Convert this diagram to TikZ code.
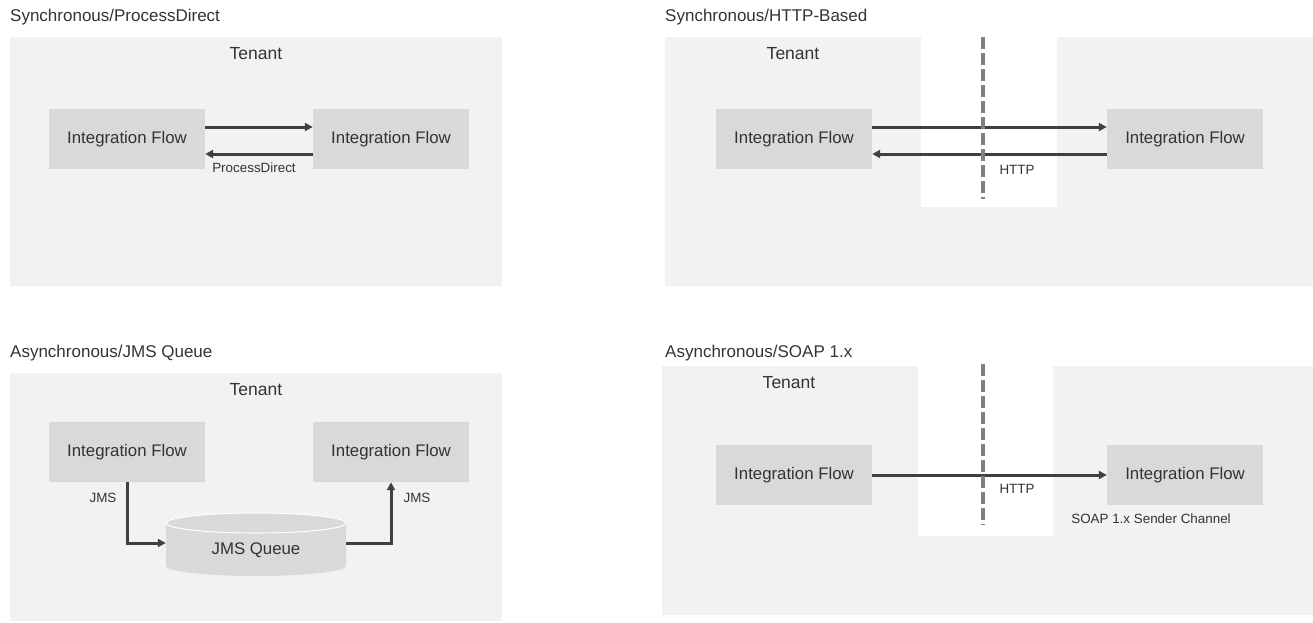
\documentclass[tikz,border=0pt]{standalone}
\usepackage{fontspec}
\setmainfont{Liberation Sans}
\usetikzlibrary{arrows.meta}
\begin{document}
\begin{tikzpicture}[x=1pt, y=-1pt,
    ifbox/.style={fill=if-gray, minimum width=156pt, minimum height=60pt, inner sep=0pt,
      text=txt-gray, font=\fontsize{16.8}{20}\selectfont},
    flow/.style={line width=3pt, color=arr-gray, -{Triangle[length=8pt,width=8pt]}},
    lbl/.style={text=txt-gray, inner sep=0pt, font=\fontsize{13.4}{16}\selectfont},
    title/.style={anchor=base west, text=txt-gray, inner sep=0pt, font=\fontsize{17}{20}\selectfont},
    tenant/.style={anchor=base, text=txt-gray, inner sep=0pt, font=\fontsize{17.5}{20}\selectfont},
    cut/.style={line width=3.5pt, color=cut-gray, dash pattern=on 12pt off 4pt}]
    \definecolor{bg-gray}{HTML}{F2F2F2}
    \definecolor{if-gray}{HTML}{D9D9D9}
    \definecolor{arr-gray}{HTML}{404040}
    \definecolor{txt-gray}{HTML}{333333}
    \definecolor{cut-gray}{HTML}{808080}
    \useasboundingbox (0,0) rectangle (1313,622);
    % Synchronous/ProcessDirect
    \begin{scope}
      \fill[bg-gray] (10,37) rectangle (502,286);
      \node[title] (tPD) at (10,21) {Synchronous/ProcessDirect};
      \node[tenant] (tenPD) at (256,59) {Tenant};
      \node[ifbox] (pdA) at (127,139) {Integration Flow};
      \node[ifbox] (pdB) at (391,139) {Integration Flow};
      \draw[flow] ([yshift=12pt]pdA.east) -- ([yshift=12pt]pdB.west);
      \draw[flow] ([yshift=-15pt]pdB.west) -- ([yshift=-15pt]pdA.east);
      \node[lbl] (pdLbl) at (254,168) {ProcessDirect};
    \end{scope}
    % Synchronous/HTTP-Based
    \begin{scope}
      \fill[bg-gray] (665,37) rectangle (1313,286);
      \fill[white] (921,37) rectangle (1057,207);
      \node[title] (tHT) at (665,21) {Synchronous/HTTP-Based};
      \node[tenant] (tenHT) at (793,59) {Tenant};
      \node[ifbox] (htA) at (794,139) {Integration Flow};
      \node[ifbox] (htB) at (1185,139) {Integration Flow};
      \draw[flow] ([yshift=12pt]htA.east) -- ([yshift=12pt]htB.west);
      \draw[flow] ([yshift=-15pt]htB.west) -- ([yshift=-15pt]htA.east);
      \coordinate (htTop) at (983,37);
      \coordinate (htBot) at (983,199);
      \draw[cut] (htTop) -- (htBot);
      \node[lbl] (htLbl) at (1017,170) {HTTP};
    \end{scope}
    % Asynchronous/JMS Queue
    \begin{scope}
      \fill[bg-gray] (10,373) rectangle (502,621);
      \node[title] (tJM) at (10,357) {Asynchronous/JMS Queue};
      \node[tenant] (tenJM) at (256,395) {Tenant};
      \node[ifbox] (jmA) at (127,452) {Integration Flow};
      \node[ifbox] (jmB) at (391,452) {Integration Flow};
      \fill[if-gray] (166,523) -- (166,566) arc[start angle=180, end angle=360, x radius=90pt, y radius=10pt]
        -- (346,523) -- cycle;
      \filldraw[fill=if-gray, draw=white, line width=1pt] (256,523) ellipse [x radius=90pt, y radius=10pt];
      \node[lbl, minimum width=180pt, text height=22pt, text depth=0pt,
        font=\fontsize{16.8}{20}\selectfont] (queue) at (256,543) {JMS Queue};
      \draw[flow] (jmA.south) |- (queue.west);
      \draw[flow] (queue.east) -| (jmB.south);
      \node[lbl] (jmLblA) at (103,498) {JMS};
      \node[lbl] (jmLblB) at (417,498) {JMS};
    \end{scope}
    % Asynchronous/SOAP 1.x
    \begin{scope}
      \fill[bg-gray] (662,366) rectangle (1313,615);
      \fill[white] (918,366) rectangle (1053,536);
      \node[title] (tSO) at (665,357) {Asynchronous/SOAP 1.x};
      \node[tenant] (tenSO) at (789,388) {Tenant};
      \node[ifbox] (soA) at (794,475) {Integration Flow};
      \node[ifbox] (soB) at (1185,475) {Integration Flow};
      \draw[flow] (soA.east) -- (soB.west);
      \coordinate (soTop) at (983,364);
      \coordinate (soBot) at (983,525);
      \draw[cut] (soTop) -- (soBot);
      \node[lbl] (soLbl) at (1017,489) {HTTP};
      \node[lbl] (soChan) at (1151,519) {SOAP 1.x Sender Channel};
    \end{scope}
  \end{tikzpicture}
\end{document}
